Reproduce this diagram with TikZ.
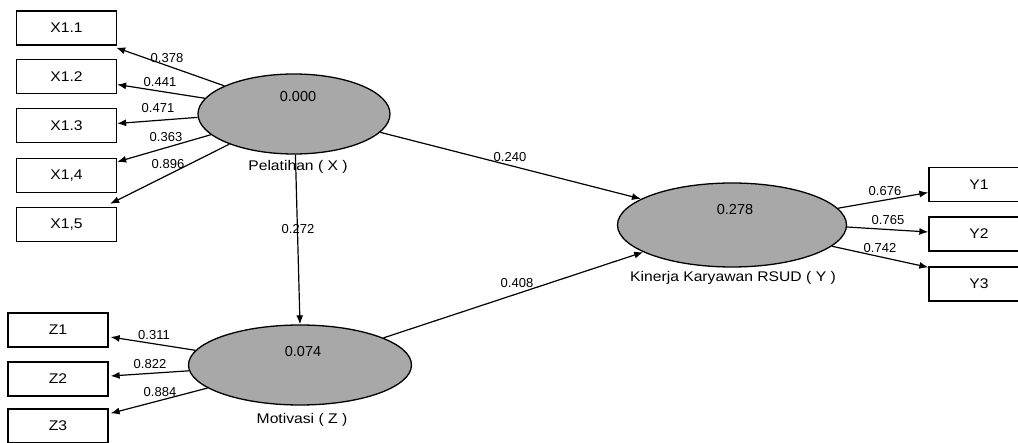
\documentclass[tikz,border=0pt]{standalone}
\usepackage{fontspec}
\setmainfont{Liberation Sans}
\newfontfamily\widesans{Liberation Sans}[FakeStretch=1.12]
\usetikzlibrary{arrows.meta,calc,shapes.geometric}
\definecolor{latentgray}{gray}{0.66}
\tikzset{
  ind/.style={draw=black, line width=1.3pt, fill=white, minimum width=100pt, minimum height=34pt, inner sep=0pt, font=\widesans\fontsize{14}{16}\selectfont},
  latent/.style={ellipse, draw=black, line width=1.3pt, fill=latentgray, inner sep=0pt},
  val/.style={font=\fontsize{14.5}{16}\selectfont, inner sep=0pt},
  lname/.style={font=\widesans\fontsize{14}{16}\selectfont, inner sep=0pt},
  coef/.style={font=\fontsize{13}{15}\selectfont, inner sep=0pt},
  link/.style={line width=1.2pt, -{Latex[length=9pt,width=7pt]}}
}
\begin{document}
\begin{tikzpicture}[x=1pt,y=-1pt]
\useasboundingbox (0,0) rectangle (1018,443);
% indicator boxes
\node[ind] (X11) at (66.5,28) {X1.1};
\node[ind] (X12) at (66.5,76.5) {X1.2};
\node[ind] (X13) at (66.5,125.5) {X1.3};
\node[ind] (X14) at (66.5,175.5) {X1,4};
\node[ind] (X15) at (66.5,224.5) {X1,5};
\node[ind] (Z1) at (58,330) {Z1};
\node[ind] (Z2) at (58,379) {Z2};
\node[ind] (Z3) at (58,426) {Z3};
\node[ind] (Y1) at (979,184.5) {Y1};
\node[ind] (Y2) at (979,234) {Y2};
\node[ind] (Y3) at (979,284) {Y3};
% latent variables
\node[latent, minimum width=192pt, minimum height=80pt] (X) at (294,114) {};
\node[latent, minimum width=223pt, minimum height=80pt] (Z) at (300,365) {};
\node[latent, minimum width=229pt, minimum height=84pt] (Y) at (732,225) {};
\node[val] (Xv) at (298,97) {0.000};
\node[val] (Zv) at (303,352) {0.074};
\node[val] (Yv) at (735,210) {0.278};
\node[lname] (Xn) at (298,167) {Pelatihan ( X )};
\node[lname] (Zn) at (302,420) {Motivasi ( Z )};
\node[lname] (Yn) at (733,278) {Kinerja Karyawan RSUD ( Y )};
% outer loadings X
\draw[link] (X.158) -- ($(X11.south east)+(-1,2)$);
\draw[link] (X.170) -- ($(X12.east)+(0,8)$);
\draw[link] (X.182) -- ($(X13.east)+(0,-2)$);
\draw[link] (X.194) -- ($(X14.north east)+(0,4)$);
\draw[link] (X.205) -- ($(X15.north east)+(-7,-3)$);
% outer loadings Z
\draw[link] (Z.172) -- ($(Z1.east)+(2,7)$);
\draw[link] (Z.183.6) -- ($(Z2.east)+(2,-3)$);
\draw[link] (Z.194.5) -- ($(Z3.north east)+(2,5)$);
% outer loadings Y
\draw[link] (Y.9) -- ($(Y1.west)+(0,8)$);
\draw[link] (Y.-1) -- ($(Y2.west)+(0,-2)$);
\draw[link] (Y.-12) -- ($(Y3.north west)+(0,1)$);
% structural paths
\draw[link] (X.-88) -- (Z.north);
\draw[link] (X.-12.5) -- (Y.164.8);
\draw[link] (Z.18) -- (Y.197);
% coefficients
\node[coef] (c1) at (167,58) {0.378};
\node[coef] (c2) at (160,82) {0.441};
\node[coef] (c3) at (158,108) {0.471};
\node[coef] (c4) at (166,137) {0.363};
\node[coef] (c5) at (168,164) {0.896};
\node[coef] (c6) at (154,335) {0.311};
\node[coef] (c7) at (150,364) {0.822};
\node[coef] (c8) at (160,392) {0.884};
\node[coef] (c9) at (885,191) {0.676};
\node[coef] (c10) at (888,220) {0.765};
\node[coef] (c11) at (880,248) {0.742};
\node[coef] (c12) at (510,157) {0.240};
\node[coef] (c13) at (517,283) {0.408};
\node[coef] (c14) at (298,229) {0.272};
\end{tikzpicture}
\end{document}
